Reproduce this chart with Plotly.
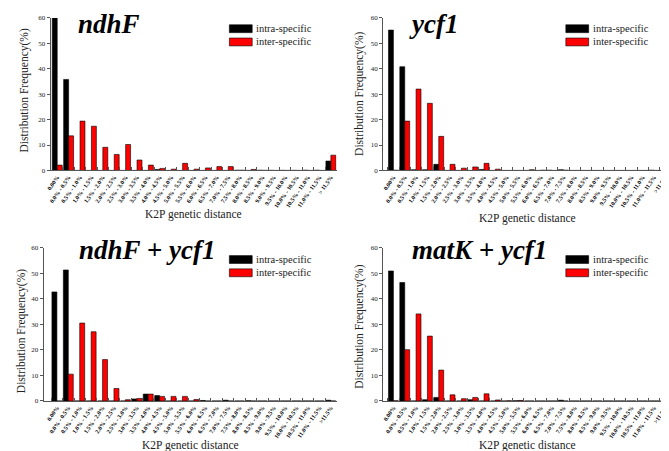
import plotly.graph_objects as go

bins = ["0.00%", "0.0% - 0.5%", "0.5% - 1.0%", "1.0% - 1.5%", "1.5% - 2.0%", "2.0% - 2.5%",
        "2.5% - 3.0%", "3.0% - 3.5%", "3.5% - 4.0%", "4.0% - 4.5%", "4.5% - 5.0%", "5.0% - 5.5%",
        "5.5% - 6.0%", "6.0% - 6.5%", "6.5% - 7.0%", "7.0% - 7.5%", "7.5% - 8.0%", "8.0% - 8.5%",
        "8.5% - 9.0%", "9.0% - 9.5%", "9.5% - 10.0%", "10.0% - 10.5%", "10.5% - 11.0%",
        "11.0% - 11.5%", "> 11.5%"]
bins_b = bins[:-1] + [">11.5%"]

ndhF_intra = [60, 35.8, 0, 0, 0, 0, 0, 0, 0, 0.4, 0, 0, 0, 0, 0, 0, 0.1, 0, 0.1, 0.05, 0.05, 0.05, 0.1, 0.1, 3.7]
ndhF_inter = [2.1, 13.6, 19.4, 17.4, 9.1, 6.3, 10.2, 4.1, 2.1, 0.8, 0.5, 2.8, 0.5, 1.0, 1.5, 1.5, 0.1, 0.4, 0.05, 0, 0, 0, 0, 0, 6.0]

ycf1_intra = [55.2, 40.8, 0.3, 0.3, 2.4, 0, 0, 0, 0.4, 0, 0, 0, 0, 0, 0.1, 0.3, 0, 0, 0, 0, 0, 0, 0, 0.1, 0]
ycf1_inter = [0.1, 19.4, 32.0, 26.4, 13.4, 2.4, 0.9, 1.4, 2.8, 0.5, 0, 0, 0.3, 0.1, 0, 0.1, 0, 0, 0, 0, 0, 0, 0, 0, 0]

ndhF_ycf1_intra = [42.7, 51.3, 0, 0, 0, 0, 0, 0.8, 2.7, 2.1, 0, 0, 0, 0.2, 0, 0.3, 0, 0.1, 0, 0, 0, 0, 0, 0, 0.3]
ndhF_ycf1_inter = [0, 10.5, 30.5, 27.1, 16.2, 4.9, 0.5, 1.0, 2.7, 1.8, 1.8, 1.8, 0.6, 0, 0, 0, 0, 0, 0, 0, 0, 0, 0, 0, 0]

matK_ycf1_intra = [50.9, 46.4, 0, 0.5, 1.4, 0, 0, 0.5, 0, 0, 0, 0.1, 0, 0, 0, 0.3, 0, 0, 0, 0, 0, 0, 0, 0, 0]
matK_ycf1_inter = [0.1, 20.1, 34.1, 25.4, 12.1, 2.4, 0.9, 1.4, 2.8, 0.4, 0.1, 0.2, 0, 0, 0, 0, 0, 0, 0, 0, 0, 0, 0, 0, 0]

titles = ["ndhF", "ycf1", "ndhF + ycf1", "matK + ycf1"]
series_names = ["intra-specific", "inter-specific"]
y_ticks = [0, 10, 20, 30, 40, 50, 60]

W, H = 669, 451
SERIF = "Liberation Serif, Times New Roman, serif"

def px(x):
    return x / W

def py(y):
    return 1 - y / H

panels = [
    dict(xl=38, xr=326, yt=6, yb=161.3, rng=[-0.57, 24.5], cats=bins,
         intra=ndhF_intra, inter=ndhF_inter, title=titles[0], tx=97, ty=12.7,
         lx=218, ly=17, ytx=12, yty=80, xty=206),
    dict(xl=373, xr=663, yt=6, yb=161.3, rng=[-0.9, 24.5], cats=bins_b,
         intra=ycf1_intra, inter=ycf1_inter, title=titles[1], tx=424, ty=12.7,
         lx=557, ly=17, ytx=349, yty=83, xty=210),
    dict(xl=31, xr=326, yt=240, yb=396, rng=[-1.15, 24.5], cats=bins_b,
         intra=ndhF_ycf1_intra, inter=ndhF_ycf1_inter, title=titles[2], tx=135, ty=242.7,
         lx=218, ly=252, ytx=8, yty=325, xty=441),
    dict(xl=373, xr=663, yt=240, yb=396, rng=[-0.9, 24.5], cats=bins_b,
         intra=matK_ycf1_intra, inter=matK_ycf1_inter, title=titles[3], tx=470, ty=242,
         lx=557, ly=252, ytx=349, yty=320, xty=441),
]

fig = go.Figure()
annotations = []
shapes = []
layout_axes = {}

for i, p in enumerate(panels):
    n = "" if i == 0 else str(i + 1)
    xa, ya = "x" + n, "y" + n
    for name, vals, col in [(series_names[0], p["intra"], "#000000"),
                            (series_names[1], p["inter"], "#ff0000")]:
        fig.add_trace(go.Bar(x=p["cats"], y=vals, name=name, xaxis=xa, yaxis=ya,
                             marker=dict(color=col, line=dict(color="#000000", width=0.6)),
                             showlegend=False))
    layout_axes["xaxis" + n] = dict(
        domain=[px(p["xl"]), px(p["xr"])], anchor=ya, type="category",
        range=p["rng"], showline=True, linecolor="#555555", linewidth=1,
        ticks="inside", ticklen=3, tickcolor="#555555", tickson="boundaries",
        tickangle=-55, tickfont=dict(family=SERIF, size=6, color="#000000", weight="bold"),
        showgrid=False, zeroline=False, fixedrange=True)
    layout_axes["yaxis" + n] = dict(
        domain=[py(p["yb"]), py(p["yt"])], anchor=xa, range=[0, 60],
        tickvals=y_ticks, showline=True, linecolor="#555555", linewidth=1,
        ticks="outside", ticklen=3, tickcolor="#555555",
        tickfont=dict(family=SERIF, size=7, color="#222222"),
        showgrid=False, zeroline=False, fixedrange=True)
    annotations.append(dict(text="<b><i>%s</i></b>" % p["title"], xref="paper", yref="paper",
                            x=px(p["tx"]), y=py(p["ty"]), xanchor="center", yanchor="middle",
                            showarrow=False, font=dict(family=SERIF, size=27, color="#000000")))
    annotations.append(dict(text="Distribution Frequency(%)", xref="paper", yref="paper",
                            x=px(p["ytx"]), y=py(p["yty"]), textangle=-90,
                            xanchor="center", yanchor="middle", showarrow=False,
                            font=dict(family=SERIF, size=11.5, color="#222222")))
    annotations.append(dict(text="K2P genetic distance", xref="paper", yref="paper",
                            x=px((p["xl"] + p["xr"]) / 2), y=py(p["xty"]),
                            xanchor="center", yanchor="middle", showarrow=False,
                            font=dict(family=SERIF, size=11.5, color="#222222")))
    for k, (name, col) in enumerate([(series_names[0], "#000000"), (series_names[1], "#ff0000")]):
        cy = p["ly"] + k * 13.5
        shapes.append(dict(type="rect", xref="paper", yref="paper",
                           x0=px(p["lx"]), x1=px(p["lx"] + 23), y0=py(cy - 4), y1=py(cy + 4),
                           fillcolor=col, line=dict(color="#000000", width=0.6)))
        annotations.append(dict(text=name, xref="paper", yref="paper",
                                x=px(p["lx"] + 25), y=py(cy), xanchor="left", yanchor="middle",
                                showarrow=False, font=dict(family=SERIF, size=10.5, color="#222222")))

fig.update_layout(
    width=W, height=H, margin=dict(l=0, r=0, t=0, b=0),
    paper_bgcolor="white", plot_bgcolor="white",
    barmode="group", bargap=0.13, bargroupgap=0,
    showlegend=False, annotations=annotations, shapes=shapes,
    **layout_axes)

fig.write_html("out.html")
